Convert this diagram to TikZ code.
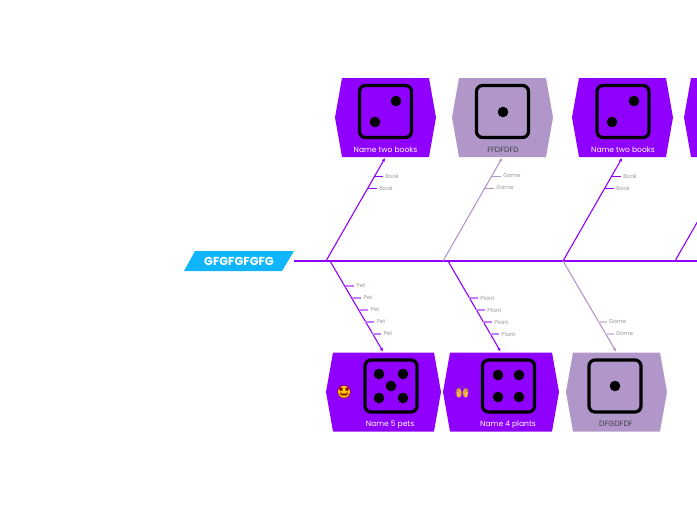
\documentclass[tikz,border=0pt]{standalone}
\usepackage{fontspec}
\setmainfont{Poppins}
\newfontfamily\emojifont{Noto Emoji}
\usepackage{tikz}
\usetikzlibrary{arrows.meta}
\definecolor{maincol}{HTML}{8F00FF}
\definecolor{palecol}{HTML}{B197C9}
\definecolor{titlecol}{HTML}{0FB5FF}
\definecolor{softcol}{HTML}{C77DFF}
\definecolor{fadecol}{HTML}{D3C4E2}
\definecolor{handcol}{HTML}{FFC04D}
% name, centre x, centre y, half width, colour
\newcommand{\hexbox}[5]{%
  \fill[#5] ({#2-#4},#3) -- ({#2-#4+7},#3-39.5) -- ({#2+#4-7},#3-39.5) -- ({#2+#4},#3)
    -- ({#2+#4-7},#3+39.5) -- ({#2-#4+7},#3+39.5) -- cycle;
  \node[minimum width={2*#4*1pt},minimum height=79pt,inner sep=0pt] (#1) at (#2,#3) {};
}
\begin{document}
\begin{tikzpicture}[x=1pt,y=-1pt,
          spine/.style={maincol,line width=1.8pt},
          bone/.style={maincol,line width=1.1pt,shorten >=1pt,-{Latex[length=3.5pt,width=3.5pt]}},
          palebone/.style={bone,palecol},
          twig/.style={maincol,line width=0.9pt},
          softtwig/.style={softcol,line width=1.2pt},
          fadetwig/.style={fadecol,line width=1.2pt},
          paletwig/.style={palecol,line width=0.9pt},
          die/.style={draw=black,line width=3.2pt,rounded corners=6pt,minimum size=52pt,inner sep=0pt},
          pip/.style={black},
          boxcap/.style={white,font=\fontsize{7.6}{9}\selectfont,inner sep=0pt,text depth=0pt},
          palecap/.style={boxcap,black!75},
          lab/.style={gray!80,font=\fontsize{5.6}{7}\selectfont,inner sep=2pt,text depth=0pt}
        ]
        \useasboundingbox (0,0) rectangle (697,520);
        \clip (0,0) rectangle (697,520);
        % top row
        \hexbox{booksa}{385.5}{117.5}{50.5}{maincol}
        \hexbox{fdfd}{502.5}{117.5}{50.5}{palecol}
        \hexbox{booksb}{622.5}{117.5}{50.5}{maincol}
        \hexbox{booksc}{734.5}{117.5}{50.5}{maincol}
        % bottom row
        \hexbox{pets}{383.5}{392}{57.5}{maincol}
        \hexbox{plants}{501}{392}{58}{maincol}
        \hexbox{gdfd}{616.5}{392}{50.5}{palecol}
        % dice
        \node[die] (diea) at (385.5,111.5) {};
        \fill[pip] (396,101) circle (5.3);
        \fill[pip] (375,122) circle (5.3);
        \node[die] (dieb) at (502.5,111.5) {};
        \fill[pip] (503,112) circle (5.3);
        \node[die] (diec) at (623,111.5) {};
        \fill[pip] (634,101) circle (5.3);
        \fill[pip] (612,122) circle (5.3);
        \node[die] (died) at (391,386) {};
        \fill[pip] (379,374) circle (5.3);
        \fill[pip] (403,374) circle (5.3);
        \fill[pip] (391,386) circle (5.3);
        \fill[pip] (379,398) circle (5.3);
        \fill[pip] (403,398) circle (5.3);
        \node[die] (diee) at (508.5,386) {};
        \fill[pip] (498,375) circle (5.3);
        \fill[pip] (519,375) circle (5.3);
        \fill[pip] (498,397) circle (5.3);
        \fill[pip] (519,397) circle (5.3);
        \node[die] (dief) at (615,386) {};
        \fill[pip] (615,386) circle (5.3);
        % captions
        \node[boxcap] (capa) at (385.5,150) {Name two books};
        \node[palecap] (capb) at (503,150) {FFDFDFD};
        \node[boxcap] (capc) at (623,150) {Name two books};
        \node[boxcap] (capd) at (390,424) {Name 5 pets};
        \node[boxcap] (cape) at (508,424) {Name 4 plants};
        \node[palecap] (capf) at (616,424) {DFGDFDF};
        % emoji
        \fill[yellow!70!orange] (344,392) circle (6);
        \node[font=\emojifont\fontsize{13}{13}\selectfont,inner sep=0pt,red!60!black] (stars) at (344,392) {🤩};
        \fill[handcol] (459,393) ellipse (2.6 and 4.6);
        \fill[handcol] (465.5,393) ellipse (2.6 and 4.6);
        \node[font=\emojifont\fontsize{11}{11}\selectfont,inner sep=0pt,handcol!70!black] (hands) at (462,392) {🙌};
        % title and spine
        \fill[titlecol] (195,251) -- (294,251) -- (282,271) -- (184,271) -- cycle;
        \node[white,font=\bfseries\fontsize{11.6}{13}\selectfont,minimum width=110pt,inner sep=0pt,text depth=0pt] (title) at (239,261) {GFGFGFGFG};
        \coordinate (spineend) at (697,261);
        \draw[spine] (title.east) -- (spineend);
        % bones
        \coordinate (ta) at (326,261);
        \coordinate (tb) at (443,261);
        \coordinate (tc) at (563,261);
        \coordinate (td) at (675,261);
        \coordinate (ba) at (330,261);
        \coordinate (bb) at (448,261);
        \coordinate (bc) at (563,261);
        \draw[bone] (ta) -- (booksa.south);
        \draw[palebone] (tb) -- (fdfd.south);
        \draw[bone] (tc) -- (booksb.south);
        \draw[bone] (td) -- (booksc.south);
        \draw[bone] (ba) -- (pets.north);
        \draw[bone] (bb) -- (plants.north);
        \draw[palebone] (bc) -- (gdfd.north);
        % top labels
        \node[lab] (ka) at (392,176) {Book};
        \node[lab] (kb) at (386,188) {Book};
        \coordinate (ja) at (374.5,176);
        \coordinate (jb) at (368,188);
        \draw[twig] (ja) -- (ka);
        \draw[twig] (jb) -- (kb);
        \node[lab] (kc) at (512,176) {Game};
        \node[lab] (kd) at (505,188) {Game};
        \coordinate (jc) at (491,176);
        \coordinate (jd) at (485,188);
        \draw[paletwig] (jc) -- (kc);
        \draw[paletwig] (jd) -- (kd);
        \node[lab] (ke) at (630,176) {Book};
        \node[lab] (kf) at (623,188) {Book};
        \coordinate (je) at (611.5,176);
        \coordinate (jf) at (605,188);
        \draw[twig] (je) -- (ke);
        \draw[twig] (jf) -- (kf);
        % bottom labels
        \node[lab] (pa) at (361,286) {Pet};
        \node[lab] (pb) at (368,298) {Pet};
        \node[lab] (pc) at (375,310) {Pet};
        \node[lab] (pd) at (381,322) {Pet};
        \node[lab] (pe) at (388,334) {Pet};
        \coordinate (qa) at (344.5,286);
        \coordinate (qb) at (351.5,298);
        \coordinate (qc) at (358.5,310);
        \coordinate (qd) at (365,322);
        \coordinate (qe) at (372,334);
        \draw[softtwig] (qa) -- (pa);
        \draw[softtwig] (qb) -- (pb);
        \draw[softtwig] (qc) -- (pc);
        \draw[softtwig] (qd) -- (pd);
        \draw[softtwig] (qe) -- (pe);
        \node[lab] (pf) at (487.5,298) {Plant};
        \node[lab] (pg) at (494.5,310) {Plant};
        \node[lab] (ph) at (501.5,322) {Plant};
        \node[lab] (pi) at (508.5,334) {Plant};
        \coordinate (qf) at (469,298);
        \coordinate (qg) at (476,310);
        \coordinate (qh) at (482.5,322);
        \coordinate (qi) at (489.5,334);
        \draw[softtwig] (qf) -- (pf);
        \draw[softtwig] (qg) -- (pg);
        \draw[softtwig] (qh) -- (ph);
        \draw[softtwig] (qi) -- (pi);
        \node[lab] (pj) at (617.5,322) {Game};
        \node[lab] (pk) at (624.5,334) {Game};
        \coordinate (qj) at (598,322);
        \coordinate (qk) at (605,334);
        \draw[fadetwig] (qj) -- (pj);
        \draw[fadetwig] (qk) -- (pk);
      \end{tikzpicture}
\end{document}
